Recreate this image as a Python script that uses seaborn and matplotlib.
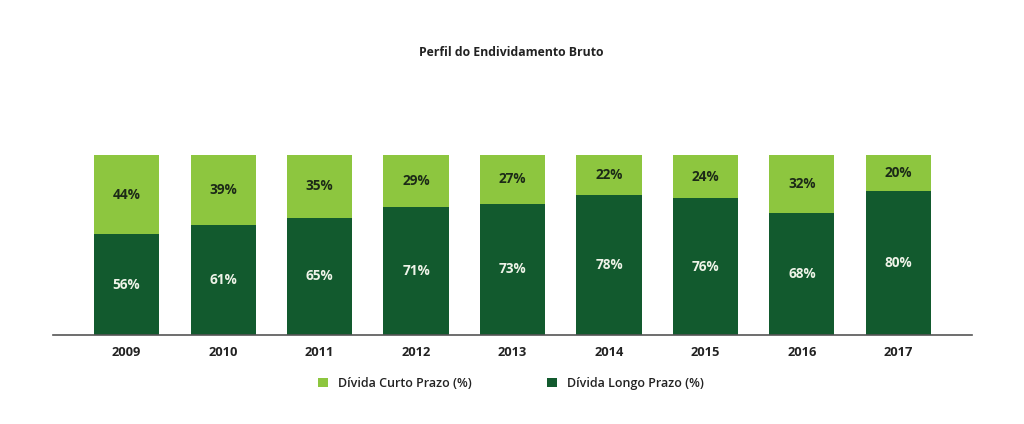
import matplotlib
matplotlib.use("Agg")
import matplotlib.pyplot as plt
import seaborn as sns
import pandas as pd
from matplotlib.patches import Patch

anos = ["2009", "2010", "2011", "2012", "2013", "2014", "2015", "2016", "2017"]
curto_prazo = [44, 39, 35, 29, 27, 22, 24, 32, 20]
longo_prazo = [56, 61, 65, 71, 73, 78, 76, 68, 80]

titulo = "Perfil do Endividamento Bruto"
serie_curto = "Dívida Curto Prazo (%)"
serie_longo = "Dívida Longo Prazo (%)"

COR_CLARA = "#8dc63f"
COR_ESCURA = "#125a2e"

sns.set_theme(style="white")
plt.rcParams["font.family"] = ["Open Sans", "DejaVu Sans"]

df = pd.DataFrame({"ano": anos, "curto": curto_prazo, "longo": longo_prazo})
df["total"] = df["curto"] + df["longo"]

fig = plt.figure(figsize=(10.24, 4.24), dpi=100)
ax = fig.add_axes([53/1024, 1-335/424, (972-53)/1024, 180/424])

sns.barplot(data=df, x="ano", y="total", color=COR_CLARA, width=0.674,
            saturation=1, ax=ax, linewidth=0)
sns.barplot(data=df, x="ano", y="longo", color=COR_ESCURA, width=0.674,
            saturation=1, ax=ax, linewidth=0)

for i, (c, l) in enumerate(zip(df["curto"], df["longo"])):
    ax.text(i, l / 2, f"{l}%", ha="center", va="center", color="#eef3e8",
            fontsize=9.8, fontweight="bold")
    ax.text(i, l + c / 2, f"{c}%", ha="center", va="center", color="#1c2a17",
            fontsize=9.8, fontweight="bold")

ax.set_xlim(-0.762, 8.762)
ax.set_ylim(0, 100)
ax.set_xlabel("")
ax.set_ylabel("")
ax.set_yticks([])
for s in ["top", "right", "left"]:
    ax.spines[s].set_visible(False)
ax.spines["bottom"].set_color("#555555")
ax.spines["bottom"].set_linewidth(1.2)
ax.tick_params(axis="x", length=0, pad=8, labelsize=9.3, labelcolor="#222222")
for t in ax.get_xticklabels():
    t.set_fontweight("bold")

fig.text(0.499, 1 - 52/424, titulo, ha="center", va="center",
         fontsize=8.8, fontweight="bold", color="#222222")

handles = [Patch(facecolor=COR_CLARA, edgecolor="none", label=serie_curto),
           Patch(facecolor=COR_ESCURA, edgecolor="none", label=serie_longo)]
leg = fig.legend(handles=handles, loc="center left", ncol=2, frameon=False,
                 bbox_to_anchor=(318/1024, 1 - 383.5/424),
                 handlelength=0.8, handleheight=0.8, handletextpad=0.8,
                 columnspacing=6.0, borderaxespad=0, borderpad=0,
                 prop={"size": 9, "weight": "semibold"})
for t in leg.get_texts():
    t.set_color("#222222")

fig.savefig("out.png", dpi=100, facecolor="white")
